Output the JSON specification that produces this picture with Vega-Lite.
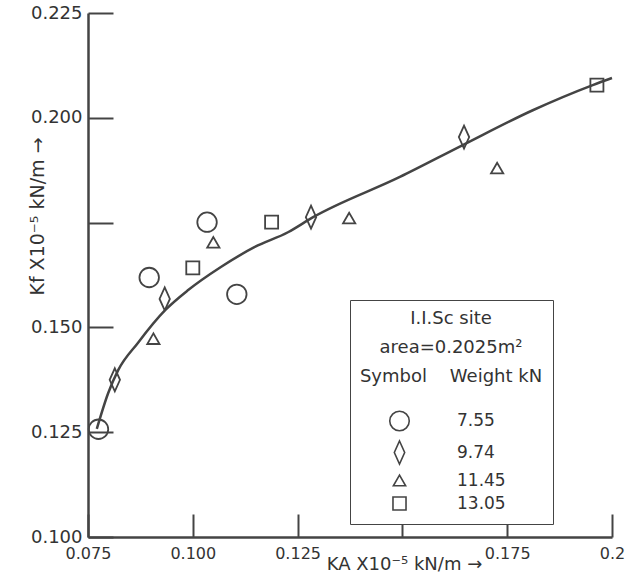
{
  "$schema": "https://vega.github.io/schema/vega-lite/v6.json",
  "width": 524,
  "height": 524,
  "autosize": "none",
  "padding": {"left": 88, "top": 13, "right": 13, "bottom": 50},
  "background": "white",
  "config": {"view": {"stroke": null}, "font": "DejaVu Sans"},
  "datasets": {
    "points": [
      {"ka": 0.0775, "kf": 0.1257, "weight": "7.55"},
      {"ka": 0.0896, "kf": 0.1619, "weight": "7.55"},
      {"ka": 0.1034, "kf": 0.1751, "weight": "7.55"},
      {"ka": 0.1105, "kf": 0.1579, "weight": "7.55"},
      {"ka": 0.0814, "kf": 0.1375, "weight": "9.74"},
      {"ka": 0.0933, "kf": 0.1568, "weight": "9.74"},
      {"ka": 0.1282, "kf": 0.1763, "weight": "9.74"},
      {"ka": 0.1647, "kf": 0.1954, "weight": "9.74"},
      {"ka": 0.0906, "kf": 0.1473, "weight": "11.45"},
      {"ka": 0.1049, "kf": 0.1703, "weight": "11.45"},
      {"ka": 0.1373, "kf": 0.1761, "weight": "11.45"},
      {"ka": 0.1726, "kf": 0.1880, "weight": "11.45"},
      {"ka": 0.1000, "kf": 0.1642, "weight": "13.05"},
      {"ka": 0.1188, "kf": 0.1751, "weight": "13.05"},
      {"ka": 0.1964, "kf": 0.2078, "weight": "13.05"}
    ],
    "curve": [
      {"ka": 0.0771, "kf": 0.1258},
      {"ka": 0.0798, "kf": 0.1343},
      {"ka": 0.0822, "kf": 0.1398},
      {"ka": 0.0869, "kf": 0.1463},
      {"ka": 0.0934, "kf": 0.1541},
      {"ka": 0.0989, "kf": 0.1589},
      {"ka": 0.1067, "kf": 0.1644},
      {"ka": 0.1148, "kf": 0.1692},
      {"ka": 0.1227, "kf": 0.1727},
      {"ka": 0.1287, "kf": 0.1763},
      {"ka": 0.1494, "kf": 0.1859},
      {"ka": 0.1644, "kf": 0.1935},
      {"ka": 0.1811, "kf": 0.2018},
      {"ka": 0.1954, "kf": 0.2078},
      {"ka": 0.2000, "kf": 0.2095}
    ]
  },
  "encoding": {
    "x": {
      "field": "ka",
      "type": "quantitative",
      "scale": {"domain": [0.075, 0.2], "nice": false, "zero": false},
      "axis": {
        "values": [0.075, 0.1, 0.125, 0.15, 0.175, 0.2],
        "labelExpr": "abs(datum.value-0.15)<1e-6 ? '' : (abs(datum.value-0.2)<1e-6 ? '0.2' : format(datum.value, '.3f'))",
        "grid": false,
        "tickSize": -23,
        "tickWidth": 2,
        "tickColor": "#444",
        "domainColor": "#444",
        "domainWidth": 2.5,
        "labelFontSize": 16,
        "labelColor": "#333",
        "labelPadding": 31,
        "labelFlush": false,
        "title": "KA X10⁻⁵ kN/m →",
        "titleFontSize": 18,
        "titleFontWeight": "normal",
        "titleColor": "#333",
        "titleX": 316,
        "titleY": 32,
        "titleAlign": "center",
        "titleBaseline": "alphabetic"
      }
    },
    "y": {
      "field": "kf",
      "type": "quantitative",
      "scale": {"domain": [0.1, 0.225], "nice": false, "zero": false},
      "axis": {
        "values": [0.1, 0.125, 0.15, 0.175, 0.2, 0.225],
        "labelExpr": "abs(datum.value-0.175)<1e-6 ? '' : format(datum.value, '.3f')",
        "grid": false,
        "tickSize": -25,
        "tickWidth": 2,
        "tickColor": "#444",
        "domainColor": "#444",
        "domainWidth": 2.5,
        "labelFontSize": 18,
        "labelColor": "#333",
        "labelPadding": 31,
        "labelFlush": false,
        "title": "Kf X10⁻⁵ kN/m →",
        "titleFontSize": 19,
        "titleFontWeight": "normal",
        "titleColor": "#333",
        "titleAngle": -90,
        "titleX": -51,
        "titleY": 203,
        "titleAlign": "center",
        "titleBaseline": "middle"
      }
    }
  },
  "layer": [
    {
      "data": {"name": "curve"},
      "mark": {"type": "line", "interpolate": "monotone", "color": "#444", "strokeWidth": 2.5}
    },
    {
      "data": {"name": "points"},
      "mark": {"type": "point", "filled": false, "color": "#444", "strokeWidth": 1.8, "opacity": 1},
      "encoding": {
        "shape": {
          "field": "weight",
          "type": "nominal",
          "scale": {
            "domain": ["7.55", "9.74", "11.45", "13.05"],
            "range": ["circle", "M0,-1L0.45,0L0,1L-0.45,0Z", "triangle-up", "square"]
          },
          "legend": {
            "orient": "none",
            "legendX": 262,
            "legendY": 287,
            "title": ["I.I.Sc site", "area=0.2025m²", "Symbol\u00a0\u00a0\u00a0\u00a0Weight kN"],
            "titleFontSize": 18,
            "titleFontWeight": "normal",
            "titleColor": "#333",
            "titleLineHeight": 29,
            "titleLimit": 300,
            "titleAnchor": "middle",
            "titleAlign": "center",
            "titlePadding": 24,
            "labelFontSize": 17,
            "labelColor": "#333",
            "labelOffset": 45,
            "symbolOffset": -10,
            "rowPadding": 3,
            "padding": 10,
            "strokeColor": "#444",
            "fillColor": "white",
            "symbolStrokeColor": "#444",
            "symbolFillColor": "transparent",
            "symbolStrokeWidth": 1.6
          }
        },
        "size": {
          "field": "weight",
          "type": "nominal",
          "scale": {
            "type": "ordinal",
            "domain": ["7.55", "9.74", "11.45", "13.05"],
            "range": [380, 530, 150, 170]
          }
        }
      }
    }
  ]
}
